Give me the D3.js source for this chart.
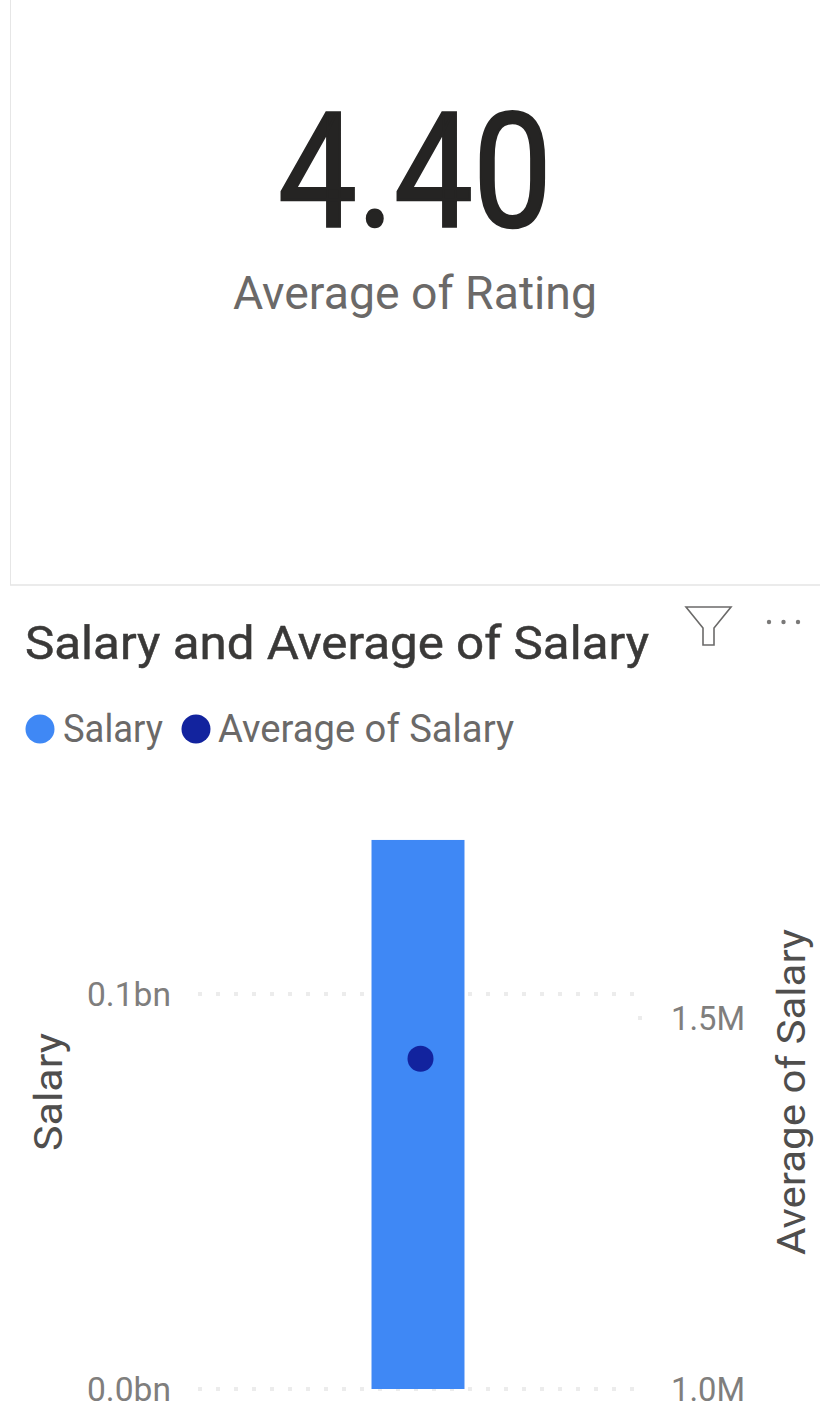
<!DOCTYPE html>
<html>
<head>
<meta charset="utf-8">
<script src="https://cdn.jsdelivr.net/npm/d3@7"></script>
<style>
  html, body { margin: 0; padding: 0; background: #fff; }
  svg { display: block; }
  text { font-family: Roboto, "Noto Sans", sans-serif; }
</style>
</head>
<body>
<div id="chart"></div>
<script>
const kpiValue = "4.40";
const kpiLabel = "Average of Rating";
const chartTitle = "Salary and Average of Salary";
const seriesNames = ["Salary", "Average of Salary"];
const seriesColors = ["#3f88f5", "#12239e"];
const categories = ["All"];
const salaryValues = [139000000];
const avgSalaryValues = [1445000];
const salaryTicks = [0, 100000000];
const salaryTickLabels = ["0.0bn", "0.1bn"];
const avgTicks = [1000000, 1500000];
const avgTickLabels = ["1.0M", "1.5M"];

const width = 820;
const height = 1411;

const svg = d3.select("#chart").append("svg")
  .attr("width", width)
  .attr("height", height)
  .attr("viewBox", `0 0 ${width} ${height}`);

// fit text to the reference's narrow face, stroke thickens it a little
function label(x, y, str, size, color, anchor, len, thicken) {
  const t = svg.append("text")
    .attr("x", x)
    .attr("y", y)
    .attr("font-size", size)
    .attr("fill", color)
    .attr("text-anchor", anchor || "start")
    .text(str);
  if (len) t.attr("textLength", len).attr("lengthAdjust", "spacingAndGlyphs");
  if (thicken) t.attr("stroke", color).attr("stroke-width", thicken);
  return t;
}

// card borders
svg.append("line").attr("x1", 10.5).attr("x2", 10.5).attr("y1", 0).attr("y2", 585)
  .attr("stroke", "#e6e6e6").attr("stroke-width", 1);
svg.append("line").attr("x1", 10).attr("x2", 820).attr("y1", 585).attr("y2", 585)
  .attr("stroke", "#e4e4e4").attr("stroke-width", 1.5);

// KPI card
label(415, 226, kpiValue, 160, "#252423", "middle", 274, 2.5);
label(415, 309, kpiLabel, 47, "#6b6968", "middle", 364);

// header
label(25, 659, chartTitle, 47, "#3a3938", "start", 624, 0.5);

const funnel = svg.append("g").attr("fill", "none").attr("stroke", "#6b6a69").attr("stroke-width", 1.6);
funnel.append("path").attr("d", "M686,607 H731 L714,628 V645 H703 V628 Z");

svg.append("g").attr("fill", "#7a7978")
  .selectAll("circle")
  .data(d3.range(3))
  .join("circle")
  .attr("cx", (d) => 769 + d * 14.5)
  .attr("cy", 622)
  .attr("r", 2.2);

// legend
const legendX = [40, 196];
const legendTextX = [63, 218];
const legendLen = [100, 296];
seriesNames.forEach((name, i) => {
  svg.append("circle").attr("cx", legendX[i]).attr("cy", 729).attr("r", 14.5).attr("fill", seriesColors[i]);
  label(legendTextX[i], 742, name, 38, "#6b6968", "start", legendLen[i]);
});

// scales
const ySalary = d3.scaleLinear().domain([0, 100000000]).range([1389, 994]);
const yAvg = d3.scaleLinear().domain([1000000, 1500000]).range([1389, 1018]);
const x = d3.scaleBand().domain(categories).range([195.5, 640.5]).paddingInner(0).paddingOuter(1.893);

// gridlines
const grid = svg.append("g")
  .attr("stroke", "#ececec")
  .attr("stroke-width", 4)
  .attr("stroke-dasharray", "4 14");
salaryTicks.forEach((t) => {
  grid.append("line").attr("x1", 198).attr("x2", 645).attr("y1", ySalary(t)).attr("y2", ySalary(t));
});

// bar
svg.append("g").selectAll("rect")
  .data(salaryValues)
  .join("rect")
  .attr("x", (d, i) => x(categories[i]))
  .attr("width", x.bandwidth())
  .attr("y", (d) => ySalary(d))
  .attr("height", (d) => ySalary(0) - ySalary(d))
  .attr("fill", seriesColors[0]);

// avg marker
svg.append("g").selectAll("circle")
  .data(avgSalaryValues)
  .join("circle")
  .attr("cx", (d, i) => x(categories[i]) + x.bandwidth() / 2 + 2.5)
  .attr("cy", (d) => yAvg(d))
  .attr("r", 13)
  .attr("fill", seriesColors[1]);

// stub of the right axis gridline at 1.5M
svg.append("line").attr("x1", 638).attr("x2", 645).attr("y1", yAvg(1500000)).attr("y2", yAvg(1500000))
  .attr("stroke", "#ececec").attr("stroke-width", 4).attr("stroke-dasharray", "4 14");

// axes
const leftAxis = d3.axisLeft(ySalary).tickValues(salaryTicks).tickSize(0)
  .tickFormat((d, i) => salaryTickLabels[i]);
const rightAxis = d3.axisRight(yAvg).tickValues(avgTicks).tickSize(0)
  .tickFormat((d, i) => avgTickLabels[i]);

svg.append("g").attr("transform", "translate(171,0)").call(leftAxis)
  .call((g) => g.select(".domain").remove())
  .call((g) => g.selectAll("text")
    .attr("x", 0).attr("dy", "0.35em").attr("font-size", 34).attr("fill", "#7f7e7d")
    .style("font-family", "Roboto, sans-serif")
    .attr("textLength", 84).attr("lengthAdjust", "spacingAndGlyphs"));

svg.append("g").attr("transform", "translate(671,0)").call(rightAxis)
  .call((g) => g.select(".domain").remove())
  .call((g) => g.selectAll("text")
    .attr("x", 0).attr("dy", "0.35em").attr("font-size", 34).attr("fill", "#7f7e7d")
    .style("font-family", "Roboto, sans-serif")
    .attr("textLength", 74).attr("lengthAdjust", "spacingAndGlyphs"));

// axis titles
svg.append("text")
  .attr("transform", "translate(62,1092) rotate(-90)")
  .attr("text-anchor", "middle")
  .attr("font-size", 39)
  .attr("fill", "#4f4e4d")
  .attr("textLength", 118)
  .attr("lengthAdjust", "spacingAndGlyphs")
  .text(seriesNames[0]);

svg.append("text")
  .attr("transform", "translate(805,1092) rotate(-90)")
  .attr("text-anchor", "middle")
  .attr("font-size", 39)
  .attr("fill", "#4f4e4d")
  .attr("textLength", 326)
  .attr("lengthAdjust", "spacingAndGlyphs")
  .text(seriesNames[1]);
</script>
</body>
</html>
